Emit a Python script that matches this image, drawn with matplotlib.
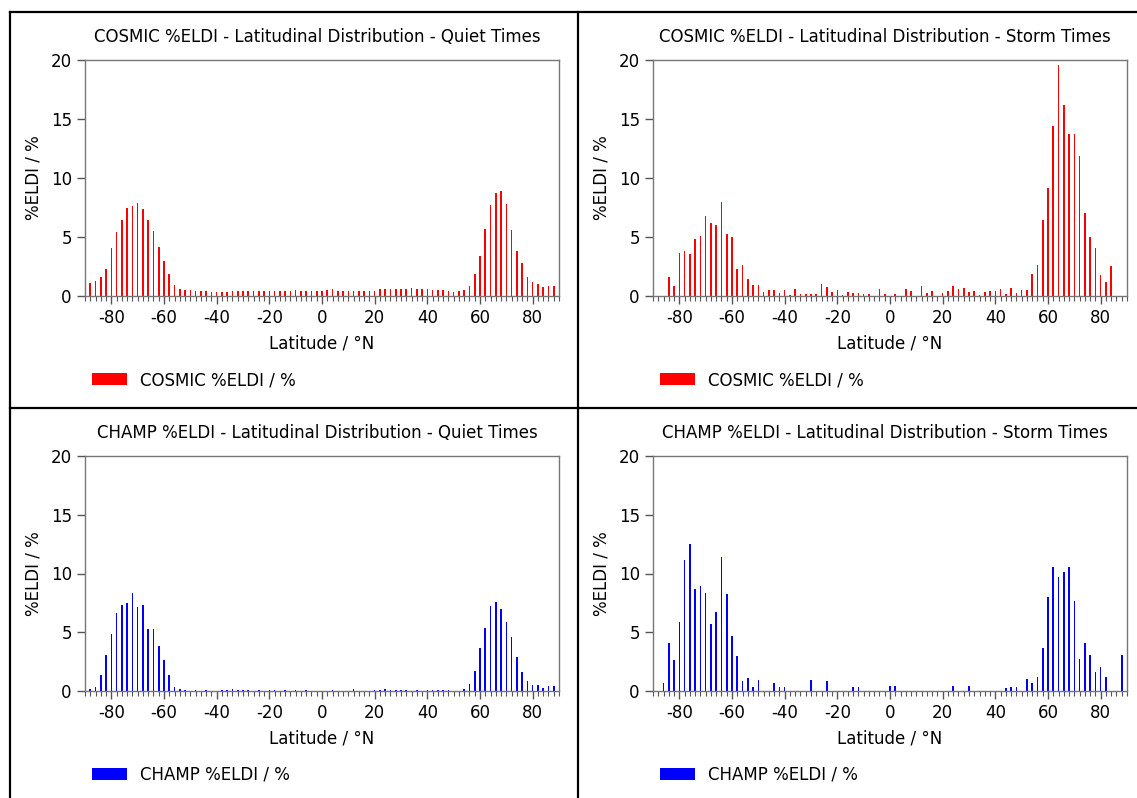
import numpy as np
import matplotlib as mpl
mpl.use('Agg')
import matplotlib.pyplot as plt
from matplotlib.patches import Patch
from matplotlib.lines import Line2D

plt.rcParams['axes.unicode_minus'] = False

# latitude bins, -90 .. 88 in 2 degree steps
lat = np.arange(-90, 90, 2)

cosmic_quiet = [
    1.0, 1.1, 1.3, 1.65, 2.3, 4.1, 5.4, 6.45, 7.5, 7.65,
    7.85, 7.35, 6.45, 5.5, 4.15, 3.0, 1.85, 0.95, 0.6, 0.55,
    0.55, 0.45, 0.45, 0.42, 0.37, 0.37, 0.37, 0.32, 0.4, 0.4,
    0.4, 0.4, 0.4, 0.4, 0.42, 0.42, 0.42, 0.42, 0.45, 0.45,
    0.55, 0.45, 0.45, 0.42, 0.45, 0.45, 0.48, 0.57, 0.45, 0.42,
    0.42, 0.4, 0.45, 0.42, 0.4, 0.45, 0.57, 0.57, 0.57, 0.6,
    0.62, 0.62, 0.65, 0.6, 0.6, 0.6, 0.52, 0.48, 0.48, 0.45,
    0.37, 0.45, 0.52, 0.85, 1.87, 3.43, 5.67, 7.73, 8.75, 8.9,
    7.82, 5.6, 3.8, 2.8, 1.64, 1.22, 1.05, 0.74, 0.85, 0.85]

cosmic_storm = [
    6.26, 0.0, 0.0, 1.64, 0.85, 3.68, 3.82, 3.57, 4.84, 5.1,
    6.74, 6.18, 6.0, 7.96, 5.27, 5.04, 2.3, 2.66, 1.42, 0.96,
    0.96, 0.34, 0.51, 0.51, 0.28, 0.54, 0.08, 0.57, 0.2, 0.2,
    0.2, 0.2, 1.02, 0.74, 0.37, 0.51, 0.11, 0.37, 0.28, 0.28,
    0.17, 0.17, 0.0, 0.62, 0.2, 0.0, 0.2, 0.0, 0.6, 0.4,
    0.0, 0.88, 0.28, 0.4, 0.0, 0.25, 0.4, 0.88, 0.6, 0.68,
    0.37, 0.45, 0.11, 0.37, 0.4, 0.4, 0.62, 0.17, 0.68, 0.28,
    0.54, 0.51, 1.9, 2.63, 6.46, 9.15, 14.4, 19.57, 16.2, 13.7,
    13.76, 11.84, 7.05, 4.96, 4.05, 1.81, 1.22, 2.52, 0.0, 0.0]

champ_quiet = [
    0.0, 0.13, 0.35, 1.4, 3.1, 4.87, 6.6, 7.3, 7.5, 8.38,
    7.18, 7.35, 5.27, 5.3, 3.82, 2.65, 1.4, 0.37, 0.14, 0.11,
    0.0, 0.06, 0.0, 0.06, 0.0, 0.0, 0.08, 0.1, 0.14, 0.1,
    0.08, 0.06, 0.0, 0.06, 0.0, 0.08, 0.06, 0.0, 0.06, 0.0,
    0.06, 0.0, 0.08, 0.0, 0.0, 0.0, 0.0, 0.05, 0.0, 0.0,
    0.0, 0.17, 0.0, 0.0, 0.0, 0.06, 0.06, 0.2, 0.11, 0.06,
    0.06, 0.06, 0.0, 0.06, 0.0, 0.06, 0.06, 0.06, 0.06, 0.06,
    0.0, 0.0, 0.14, 0.63, 1.74, 3.65, 5.38, 7.26, 7.58, 6.98,
    5.9, 4.59, 2.93, 1.6, 0.85, 0.51, 0.54, 0.23, 0.43, 0.43]

champ_storm = [
    3.42, 0.0, 0.71, 4.05, 2.6, 5.84, 11.17, 12.54, 8.69, 8.97,
    8.32, 5.67, 6.75, 11.4, 8.29, 4.67, 2.96, 0.83, 1.11, 0.34,
    0.97, 0.0, 0.0, 0.66, 0.34, 0.37, 0.0, 0.0, 0.0, 0.0,
    0.91, 0.0, 0.0, 0.85, 0.0, 0.0, 0.0, 0.0, 0.34, 0.34,
    0.0, 0.0, 0.0, 0.0, 0.0, 0.46, 0.4, 0.0, 0.0, 0.0,
    0.0, 0.0, 0.0, 0.0, 0.0, 0.0, 0.0, 0.4, 0.0, 0.0,
    0.46, 0.0, 0.0, 0.0, 0.0, 0.0, 0.0, 0.28, 0.34, 0.34,
    0.0, 1.03, 0.68, 1.17, 3.7, 7.98, 10.54, 9.74, 10.17, 10.54,
    7.66, 2.76, 4.05, 3.08, 1.65, 2.08, 1.23, 0.0, 0.0, 3.08]

titles = ["COSMIC %ELDI - Latitudinal Distribution - Quiet Times",
          "COSMIC %ELDI - Latitudinal Distribution - Storm Times",
          "CHAMP %ELDI - Latitudinal Distribution - Quiet Times",
          "CHAMP %ELDI - Latitudinal Distribution - Storm Times"]
labels = ["COSMIC %ELDI / %", "COSMIC %ELDI / %", "CHAMP %ELDI / %", "CHAMP %ELDI / %"]
colors = ["#ff0000", "#ff0000", "#0000ff", "#0000ff"]
series = [cosmic_quiet, cosmic_storm, champ_quiet, champ_storm]

W, H = 1137, 798
fig = plt.figure(figsize=(W / 100.0, H / 100.0), dpi=100)

# axes boxes in pixels: left, top, right, bottom
boxes = [(85, 60, 559, 296), (653, 60, 1127, 296),
         (85, 456, 559, 691), (653, 456, 1127, 691)]

for i in range(4):
    l, t, r, b = boxes[i]
    ax = fig.add_axes([l / W, 1 - b / H, (r - l) / W, (b - t) / H])
    ax.bar(lat, series[i], width=0.6, color=colors[i], linewidth=0)
    ax.set_xlim(-90, 90)
    ax.set_ylim(0, 20)
    ax.set_xticks(np.arange(-80, 81, 20))
    ax.set_xticks(np.arange(-90, 91, 2), minor=True)
    ax.set_yticks([0, 5, 10, 15, 20])
    ax.tick_params(axis='both', which='major', labelsize=12, length=6,
                   width=1, color='#555555', direction='out')
    ax.tick_params(axis='x', which='minor', length=3.5, width=0.8,
                   color='#555555', direction='out')
    for sp in ax.spines.values():
        sp.set_color('#777777')
        sp.set_linewidth(1)
    ax.set_title(titles[i], fontsize=12, pad=13, x=0.49)
    ax.set_xlabel("Latitude / °N", fontsize=12, labelpad=5)
    ax.set_ylabel("%ELDI / %", fontsize=12, labelpad=6)
    ax.legend(handles=[Patch(facecolor=colors[i], edgecolor='none')],
              labels=[labels[i]], loc='center left',
              bbox_to_anchor=(0.0, -0.356), frameon=False, fontsize=12,
              handlelength=2.1, handleheight=0.75, handletextpad=0.8,
              borderpad=0, borderaxespad=0.4)

# panel frame lines
def fline(x0, y0, x1, y1):
    fig.add_artist(Line2D([x0 / W, x1 / W], [1 - y0 / H, 1 - y1 / H],
                          color='black', linewidth=1.6))

fline(10, 12, W, 12)
fline(10, 12, 10, H)
fline(578, 12, 578, H)
fline(10, 408, W, 408)

fig.savefig("out.png", dpi=100)
